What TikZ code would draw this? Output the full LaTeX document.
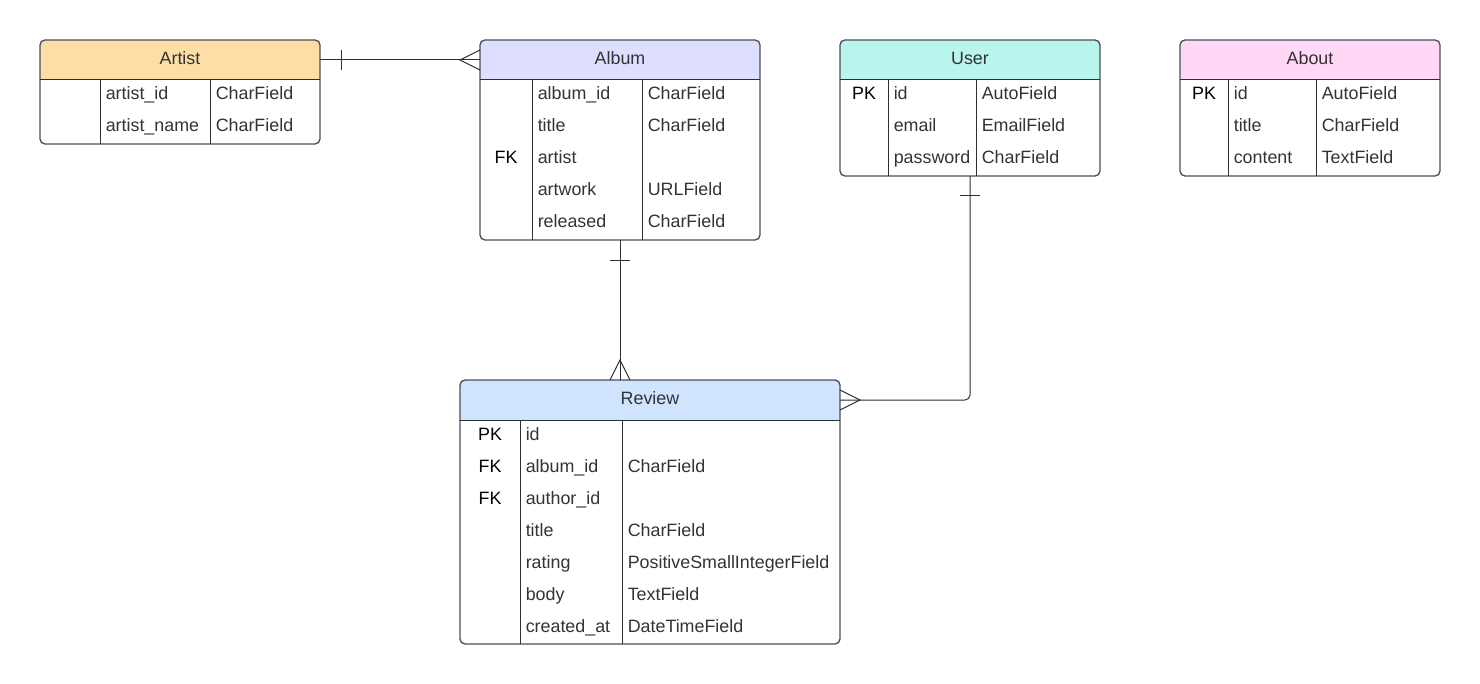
\documentclass[tikz,border=0pt]{standalone}
\usepackage{fontspec}
\setmainfont{Liberation Sans}
\usetikzlibrary{calc}
\definecolor{ink}{HTML}{333333}
\definecolor{edgec}{HTML}{4A4F56}
\definecolor{lineink}{HTML}{2B2F34}
\definecolor{cArtist}{HTML}{FFDDA6}
\definecolor{cAlbum}{HTML}{DEDEFF}
\definecolor{cUser}{HTML}{B8F5EC}
\definecolor{cAbout}{HTML}{FFD8F5}
\definecolor{cReview}{HTML}{CFE4FF}
\newcommand\erfont{\fontsize{13.4}{16}\selectfont}
\tikzset{
  tblbox/.style={draw=edgec, line width=1pt, rounded corners=3.75pt, inner sep=0pt, outer sep=0pt, anchor=north west},
  hdr/.style={text=ink, font=\erfont, inner sep=0pt, outer sep=0pt, anchor=north west, text height=9.4pt, text depth=3pt},
  keytxt/.style={text=black, font=\erfont, inner sep=0pt, anchor=base},
  fldtxt/.style={text=ink, font=\erfont, inner sep=0pt, anchor=base west},
  tblline/.style={draw=lineink, line width=0.75pt},
  conn/.style={draw=lineink, line width=0.75pt},
}
% #1 name, #2 x, #3 y, #4 width, #5 col1, #6 col2, #7 rows, #8 colour, #9 title
\newcommand\ertable[9]{%
  \expandafter\gdef\csname ertA#1\endcsname{#5}%
  \expandafter\gdef\csname ertB#1\endcsname{#6}%
  \begin{scope}
    \clip[rounded corners=3.75pt] (#2,#3) rectangle ++(#4,40+32*#7);
    \fill[#8] (#2,#3) rectangle ++(#4,40);
  \end{scope}
  \node[tblbox, minimum width=0.75pt*#4, minimum height=0.75pt*(40+32*#7)] (#1) at (#2,#3) {};
  \node[hdr, minimum width=0.75pt*#4, minimum height=30pt] (#1head) at (#2,#3) {#9};
  \draw[tblline] (#1head.south west) -- (#1head.south east);
  \draw[tblline] ($(#1head.south west)+(#5,0)$) -- ($(#1.south west)+(#5,0)$);
  \draw[tblline] ($(#1head.south west)+(#6,0)$) -- ($(#1.south west)+(#6,0)$);
}
\newcommand\erkey[3]{\node[keytxt] (#1-k#2) at ($(#1.north west)+(0.5*\csname ertA#1\endcsname,32*#2+28)$) {#3};}
\newcommand\erfld[3]{\node[fldtxt] (#1-f#2) at ($(#1.north west)+(\csname ertA#1\endcsname+5.5,32*#2+28)$) {#3};}
\newcommand\ertyp[3]{\node[fldtxt] (#1-t#2) at ($(#1.north west)+(\csname ertB#1\endcsname+5.5,32*#2+28)$) {#3};}
\begin{document}
\begin{tikzpicture}[x=0.75pt, y=-0.75pt]
\useasboundingbox (0,0) rectangle (1480,684);

% Artist
\ertable{artist}{40}{40}{280}{60}{170}{2}{cArtist}{Artist}
\erfld{artist}{1}{artist\_id}   \ertyp{artist}{1}{CharField}
\erfld{artist}{2}{artist\_name} \ertyp{artist}{2}{CharField}

% Album
\ertable{album}{480}{40}{280}{52}{162}{5}{cAlbum}{Album}
\erfld{album}{1}{album\_id} \ertyp{album}{1}{CharField}
\erfld{album}{2}{title}     \ertyp{album}{2}{CharField}
\erkey{album}{3}{FK} \erfld{album}{3}{artist}
\erfld{album}{4}{artwork}   \ertyp{album}{4}{URLField}
\erfld{album}{5}{released}  \ertyp{album}{5}{CharField}

% User
\ertable{user}{840}{40}{260}{48}{136}{3}{cUser}{User}
\erkey{user}{1}{PK} \erfld{user}{1}{id} \ertyp{user}{1}{AutoField}
\erfld{user}{2}{email}    \ertyp{user}{2}{EmailField}
\erfld{user}{3}{password} \ertyp{user}{3}{CharField}

% About
\ertable{about}{1180}{40}{260}{48}{136}{3}{cAbout}{About}
\erkey{about}{1}{PK} \erfld{about}{1}{id} \ertyp{about}{1}{AutoField}
\erfld{about}{2}{title}   \ertyp{about}{2}{CharField}
\erfld{about}{3}{content} \ertyp{about}{3}{TextField}

% Review
\ertable{review}{460}{380}{380}{60}{162}{7}{cReview}{Review}
\erkey{review}{1}{PK} \erfld{review}{1}{id}
\erkey{review}{2}{FK} \erfld{review}{2}{album\_id} \ertyp{review}{2}{CharField}
\erkey{review}{3}{FK} \erfld{review}{3}{author\_id}
\erfld{review}{4}{title}      \ertyp{review}{4}{CharField}
\erfld{review}{5}{rating}     \ertyp{review}{5}{PositiveSmallIntegerField}
\erfld{review}{6}{body}       \ertyp{review}{6}{TextField}
\erfld{review}{7}{created\_at} \ertyp{review}{7}{DateTimeField}

% Artist -- Album (one to many)
\draw[conn] (artisthead.east) -- (albumhead.west);
\draw[conn] ($(artisthead.east)+(21,-10)$) -- ($(artisthead.east)+(21,10)$);
\draw[conn] ($(albumhead.west)+(0,-10)$) -- ($(albumhead.west)+(-20,0)$) -- ($(albumhead.west)+(0,10)$);

% Album -- Review (one to many)
\coordinate (revtop) at (album.south |- review.north);
\draw[conn] (album.south) -- (revtop);
\draw[conn] ($(album.south)+(-10,20)$) -- ($(album.south)+(10,20)$);
\draw[conn] ($(revtop)+(-10,0)$) -- ($(revtop)+(0,-20)$) -- ($(revtop)+(10,0)$);

% User -- Review (one to many)
\draw[conn, rounded corners=3.75pt] (user.south) |- (reviewhead.east);
\draw[conn] ($(user.south)+(-10,20)$) -- ($(user.south)+(10,20)$);
\draw[conn] ($(reviewhead.east)+(0,-10)$) -- ($(reviewhead.east)+(20,0)$) -- ($(reviewhead.east)+(0,10)$);
\end{tikzpicture}
\end{document}
